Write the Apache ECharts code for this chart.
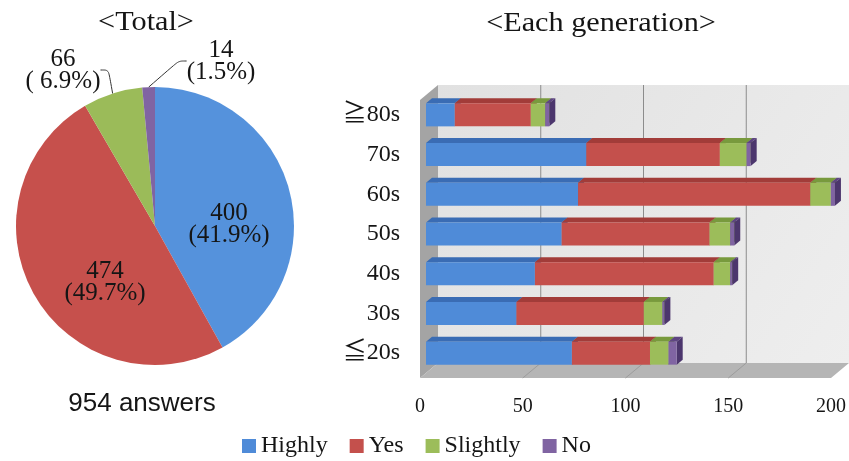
<!DOCTYPE html>
<html>
<head>
<meta charset="utf-8">
<script src="https://cdn.jsdelivr.net/npm/echarts@6/dist/echarts.min.js"></script>
<style>
  html, body { margin: 0; padding: 0; background: #ffffff; }
  #main { width: 849px; height: 461px; }
</style>
</head>
<body>
<div id="main"></div>
<script>
// Survey answers: overall totals and breakdown by generation
const answerTypes = ['Highly', 'Yes', 'Slightly', 'No'];
const totalAnswers = [400, 474, 66, 14];

// generations listed bottom-to-top along the category axis
const generations = ['≦20s', '30s', '40s', '50s', '60s', '70s', '≧80s'];
const highly   = [71, 44, 53, 66, 74, 78, 14];
const yes      = [38, 62, 87, 72, 113, 65, 37];
const slightly = [9, 9, 8, 10, 10, 13, 7];
const no       = [4, 1, 1, 2, 2, 2, 2];

const xTicks = [0, 50, 100, 150, 200];

const SERIF = '"Liberation Serif", "Times New Roman", "Noto Sans CJK JP", serif';
const SANS = '"Liberation Sans", Arial, sans-serif';
const TEXT = '#151515';

// pseudo-3D depth vector (pixels per depth step)
const DEPTH = [6, -5];

const pieColors = ['#5592dc', '#c6504c', '#9bbb59', '#8064a2'];
const faceColors = [
  { front: '#4f8bd8', top: '#3a6cb4', side: '#2f5997' },
  { front: '#c4504c', top: '#a23c39', side: '#8a302d' },
  { front: '#9cbd5a', top: '#789a3d', side: '#668632' },
  { front: '#8064a2', top: '#5e4582', side: '#4c366d' }
];

const byType = [highly, yes, slightly, no];

// stacked segments per answer type: [categoryIndex, start, end]
function stackedSegments(typeIndex) {
  return byType[typeIndex].map(function (v, c) {
    let base = 0;
    for (let k = 0; k < typeIndex; k++) base += byType[k][c];
    return [c, base, base + v];
  });
}

function barRenderer(faces) {
  return function (params, api) {
    const c = api.value(0);
    const a = api.coord([api.value(1), c]);
    const b = api.coord([api.value(2), c]);
    const h = api.size([0, 1])[1] * 0.58;
    const x0 = a[0], x1 = b[0];
    const yt = a[1] - h / 2, yb = a[1] + h / 2;
    const dx = DEPTH[0], dy = DEPTH[1];
    return {
      type: 'group',
      children: [
        { type: 'polygon',
          shape: { points: [[x0, yt], [x1, yt], [x1 + dx, yt + dy], [x0 + dx, yt + dy]] },
          style: { fill: faces.top } },
        { type: 'polygon',
          shape: { points: [[x1, yt], [x1 + dx, yt + dy], [x1 + dx, yb + dy], [x1, yb]] },
          style: { fill: faces.side } },
        { type: 'rect',
          shape: { x: x0, y: yt, width: x1 - x0, height: h },
          style: { fill: faces.front } }
      ]
    };
  };
}

// back wall, side wall, floor and gridlines of the 3D plot area
function wallRenderer(params, api) {
  const cs = params.coordSys;
  const dx = DEPTH[0], dy = DEPTH[1];
  const L = cs.x, R = cs.x + cs.width, T = cs.y, B = cs.y + cs.height;
  const back = 2, front = -1;
  const children = [
    { type: 'rect',
      shape: { x: L + back * dx, y: T + back * dy, width: cs.width, height: cs.height },
      style: { fill: new echarts.graphic.LinearGradient(0, 0, 1, 1, [
        { offset: 0, color: '#e1e1e1' }, { offset: 1, color: '#eeeeee' }]) } },
    { type: 'polygon',
      shape: { points: [[L + front * dx, T + front * dy], [L + back * dx, T + back * dy],
                        [L + back * dx, B + back * dy], [L + front * dx, B + front * dy]] },
      style: { fill: '#a4a4a4' } },
    { type: 'polygon',
      shape: { points: [[L + front * dx, B + front * dy], [L + back * dx, B + back * dy],
                        [R + back * dx, B + back * dy], [R + front * dx, B + front * dy]] },
      style: { fill: '#b5b5b5' } }
  ];
  xTicks.forEach(function (v) {
    if (v <= xTicks[0] || v >= xTicks[xTicks.length - 1]) return;
    const x = api.coord([v, 0])[0];
    children.push({ type: 'line',
      shape: { x1: x + back * dx, y1: T + back * dy, x2: x + back * dx, y2: B + back * dy },
      style: { stroke: '#8c8c8c', lineWidth: 1 } });
    children.push({ type: 'line',
      shape: { x1: x + back * dx, y1: B + back * dy, x2: x + front * dx, y2: B + front * dy },
      style: { stroke: '#9c9c9c', lineWidth: 1 } });
  });
  return { type: 'group', children: children };
}

// fixed label anchors for the pie (centre of each text block)
const pieLabelSpots = [[229, 224], [105, 282], [63, 70], [221, 61]];

const pieData = answerTypes.map(function (name, i) {
  const item = { name: name, value: totalAnswers[i], itemStyle: { color: pieColors[i] } };
  if (i >= 2) {
    item.label = { position: 'outside', formatter: i === 2 ? '{c}\n( {d}%)' : '{c}\n({d}%)' };
    item.labelLine = { show: true, length: 6, length2: 8, smooth: 0.3,
                       lineStyle: { color: '#333333', width: 1 } };
  }
  return item;
});

const chart = echarts.init(document.getElementById('main'), null, { renderer: 'canvas' });

const option = {
  animation: false,
  textStyle: { fontFamily: SERIF, color: TEXT },
  grid: { left: 426, right: 9, top: 95, bottom: 88 },
  xAxis: {
    type: 'value', min: 0, max: 200, interval: 50,
    axisLine: { show: false }, axisTick: { show: false }, splitLine: { show: false },
    axisLabel: { fontFamily: SERIF, fontSize: 20, color: TEXT, margin: 24, padding: [0, 12, 0, 0] }
  },
  yAxis: {
    type: 'category', data: generations,
    axisLine: { show: false }, axisTick: { show: false },
    axisLabel: { fontFamily: SERIF, fontSize: 24, color: TEXT, margin: 26 }
  },
  legend: {
    data: answerTypes,
    left: 237, top: 429,
    icon: 'rect', itemWidth: 14, itemHeight: 14, itemGap: 22,
    textStyle: { fontFamily: SERIF, fontSize: 24, color: TEXT, padding: [0, 0, 0, 0] }
  },
  graphic: [
    { type: 'text', x: 146, y: 23, scaleX: 1.08, silent: true,
      style: { text: '<Total>', font: '28px ' + SERIF, fill: TEXT,
               textAlign: 'center', textVerticalAlign: 'middle' } },
    { type: 'text', x: 601, y: 24, scaleX: 1.08, silent: true,
      style: { text: '<Each generation>', font: '28px ' + SERIF, fill: TEXT,
               textAlign: 'center', textVerticalAlign: 'middle' } },
    { type: 'text', x: 142, y: 404, silent: true,
      style: { text: '954 answers', font: '26px ' + SANS, fill: TEXT,
               textAlign: 'center', textVerticalAlign: 'middle' } }
  ],
  series: [
    {
      type: 'pie',
      name: 'Total',
      center: [155, 226],
      radius: 139,
      startAngle: 90,
      clockwise: true,
      percentPrecision: 1,
      avoidLabelOverlap: false,
      label: { show: true, position: 'inside', formatter: '{c}\n({d}%)',
               fontFamily: SERIF, fontSize: 25, lineHeight: 22, color: TEXT },
      labelLine: { show: false },
      labelLayout: function (p) {
        const s = pieLabelSpots[p.dataIndex];
        return { x: s[0], y: s[1], align: 'center', verticalAlign: 'middle' };
      },
      itemStyle: { borderWidth: 0 },
      emphasis: { disabled: true },
      data: pieData
    },
    {
      type: 'custom',
      name: 'walls',
      silent: true,
      z: 1,
      renderItem: wallRenderer,
      data: [[0, 0, 0]],
      encode: { y: 0, x: 1 }
    }
  ].concat(answerTypes.map(function (name, i) {
    return {
      type: 'custom',
      name: name,
      z: 2,
      itemStyle: { color: faceColors[i].front },
      renderItem: barRenderer(faceColors[i]),
      encode: { y: 0, x: [1, 2] },
      data: stackedSegments(i)
    };
  }))
};

chart.setOption(option);
</script>
</body>
</html>
